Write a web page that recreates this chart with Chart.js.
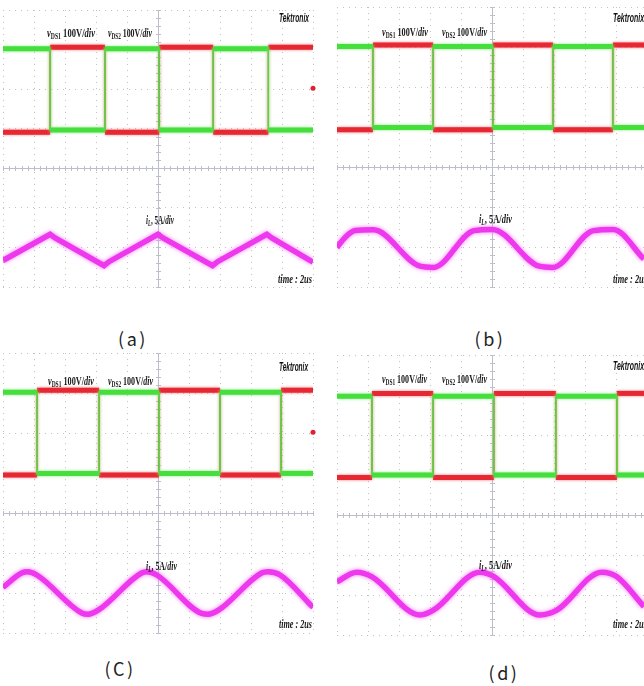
<!DOCTYPE html>
<html><head><meta charset="utf-8">
<script src="https://cdn.jsdelivr.net/npm/chart.js@4.4.0/dist/chart.umd.min.js"></script>
<style>
html,body{margin:0;padding:0;background:#fff;width:644px;height:686px;overflow:hidden;position:relative;}
canvas{position:absolute;}
.lbl{position:absolute;white-space:nowrap;color:#1a1a1a;font-family:"Liberation Serif","DejaVu Serif",serif;font-weight:bold;font-size:12px;line-height:12px;transform-origin:0 0;}
.lbl sub{font-size:8px;vertical-align:-2px;line-height:0;}
.lbl.tek{font-family:"Liberation Sans Narrow","Liberation Sans",sans-serif;font-style:italic;font-size:13px;line-height:13px;color:#111;}
.cap{position:absolute;font-family:"Noto Sans CJK KR","Noto Sans",sans-serif;font-size:18px;line-height:20px;color:#222;letter-spacing:2.5px;transform:translateX(-50%);}
</style></head><body>
<script>
// ---- values (units: oscilloscope divisions; 10 across, 7 tall, bottom = 0) ----
// switching instants of the two drain-source voltages
const edgesA = [1.52, 3.29, 5.04, 6.78, 8.56];
const edgesB = [1.16, 3.10, 5.03, 6.97, 8.90];
const edgesC = [1.10, 3.10, 5.03, 7.00, 8.97];
const edgesD = [1.13, 3.10, 5.06, 7.06, 9.03];
// [high, low] levels
const greenA = [6.02, 3.97], redA = [6.06, 3.91];
const greenB = [6.01, 3.99], redB = [6.05, 3.93];
const greenC = [6.02, 3.99], redC = [6.07, 3.95];
const greenD = [5.97, 4.00], redD = [6.04, 3.94];
// inductor current i_L
const iLtA = [0, 1.52, 1.68, 3.26, 3.42, 5.00, 5.16, 6.76, 6.92, 8.51, 8.67, 10];
const iLvA = [0.67, 1.33, 1.24, 0.54, 0.64, 1.33, 1.24, 0.54, 0.64, 1.33, 1.24, 0.63];
const iLtB = [0, 0.26, 0.58, 1.17, 2.68, 3.11, 4.42, 5.01, 6.52, 6.96, 8.27, 8.91, 9.90];
const iLvB = [0.99, 1.24, 1.41, 1.43, 0.52, 0.49, 1.41, 1.44, 0.52, 0.49, 1.41, 1.44, 0.70];
const iLtC = [0, 0.60, 0.80, 1.09, 2.54, 2.75, 3.07, 4.47, 4.65, 4.96, 6.41, 6.62, 6.95, 8.34, 8.55, 8.94, 10];
const iLvC = [1.14, 1.50, 1.53, 1.45, 0.50, 0.47, 0.57, 1.50, 1.53, 1.45, 0.49, 0.47, 0.57, 1.50, 1.53, 1.45, 0.64];
const iLtD = [0, 0.63, 1.12, 2.68, 3.11, 4.61, 5.04, 6.55, 7.09, 8.54, 9.02, 9.90];
const iLvD = [1.33, 1.57, 1.46, 0.50, 0.62, 1.57, 1.47, 0.50, 0.62, 1.57, 1.46, 0.71];
// channel reference marker at right edge
const markerA = [5.02], markerB = [], markerC = [5.02], markerD = [];
// captions and texts
const captions = ['(a)', '(b)', '(C)', '(d)'];
const TXT_V1 = '<i>v</i><sub>DS1</sub> 100V/<i>div</i>';
const TXT_V2 = '<i>v</i><sub>DS2</sub> 100V/<i>div</i>';
const TXT_IL = '<i>i</i><sub><i>L</i></sub>, 5A/<i>div</i>';
const TXT_TIME = '<i>time : 2us</i>';
const TXT_TEK = 'Tektronix';

// ---- layout ----
const M = 6;
const panels = [
  {left:3,   top:10,  w:310, h:277, edges:edgesA, g:greenA, r:redA, t:iLtA, v:iLvA, mk:markerA, smooth:false},
  {left:337, top:7,   w:310, h:280, edges:edgesB, g:greenB, r:redB, t:iLtB, v:iLvB, mk:markerB, smooth:true},
  {left:3,   top:353, w:310, h:280, edges:edgesC, g:greenC, r:redC, t:iLtC, v:iLvC, mk:markerC, smooth:true},
  {left:337, top:355, w:310, h:280, edges:edgesD, g:greenD, r:redD, t:iLtD, v:iLvD, mk:markerD, smooth:true}
];
const capPos = [[133,328],[490,328],[120,658],[504,662]];
const textPos = [
  [[TXT_V1,47,27,48,''],[TXT_V2,108,27,44,''],[TXT_TEK,279,11,30,'tek'],[TXT_IL,146,214,28,''],[TXT_TIME,278,273,34,'']],
  [[TXT_V1,382,26,46,''],[TXT_V2,442,26,45,''],[TXT_TEK,613,11,31,'tek'],[TXT_IL,479,213,33,''],[TXT_TIME,613,273,34,'']],
  [[TXT_V1,48,375,46,''],[TXT_V2,108,375,45,''],[TXT_TEK,279,360,29,'tek'],[TXT_IL,146,560,31,''],[TXT_TIME,279,618,33,'']],
  [[TXT_V1,382,373,45,''],[TXT_V2,442,373,45,''],[TXT_TEK,613,359,31,'tek'],[TXT_IL,479,559,33,''],[TXT_TIME,613,618,34,'']]
];

function steps(edges, first, second){
  const pts=[{x:0,y:first}]; let cur=first, oth=second;
  edges.forEach(e=>{pts.push({x:e,y:cur}); const tmp=cur; cur=oth; oth=tmp; pts.push({x:e,y:cur});});
  pts.push({x:10,y:cur}); return pts;
}

const glow = {
  id:'glow',
  beforeDatasetDraw(chart,args){
    const ds=chart.data.datasets[args.index]; const c=chart.ctx; c.save();
    if(ds.glow){c.shadowColor=ds.glow; c.shadowBlur=ds.glowBlur||4;}
  },
  afterDatasetDraw(chart){chart.ctx.restore();}
};
const crosshair = {
  id:'crosshair',
  beforeDatasetsDraw(chart){
    const c=chart.ctx, x=chart.scales.x, y=chart.scales.y;
    const cx=Math.round(x.getPixelForValue(5))+0.5, cy=Math.round(y.getPixelForValue(3))+0.5;
    c.save(); c.strokeStyle='#bcbfca'; c.lineWidth=1; c.beginPath();
    c.moveTo(x.left,cy); c.lineTo(x.right,cy); c.moveTo(cx,y.top); c.lineTo(cx,y.bottom);
    for(let k=0;k<=50;k++){const px=Math.round(x.getPixelForValue(k/5))+0.5; c.moveTo(px,cy-2.5); c.lineTo(px,cy+2.5);}
    for(let k=0;k<=35;k++){const py=Math.round(y.getPixelForValue(k/5))+0.5; c.moveTo(cx-2.5,py); c.lineTo(cx+2.5,py);}
    c.stroke(); c.restore();
  }
};

const thin = ctx => (ctx.p0.parsed.x === ctx.p1.parsed.x ? 1.3 : 5);

panels.forEach((p,i)=>{
  const cv=document.createElement('canvas');
  cv.width=p.w+2*M; cv.height=p.h+2*M;
  cv.style.left=(p.left-M)+'px'; cv.style.top=(p.top-M)+'px';
  document.body.appendChild(cv);
  const gridOpt={color:'#c2c2c2', lineWidth:1, drawTicks:false};
  new Chart(cv,{
    type:'line',
    data:{datasets:[
      {label:'green', data:steps(p.edges,p.g[0],p.g[1]), borderColor:'#45de3c', glow:'rgba(130,238,120,0.95)', glowBlur:3, borderWidth:5, pointRadius:0, tension:0, segment:{borderWidth:thin}},
      {label:'red', data:steps(p.edges,p.r[1],p.r[0]), borderColor:'#e52832', glow:'rgba(248,110,120,0.95)', glowBlur:3, borderWidth:5, pointRadius:0, tension:0, segment:{borderWidth:thin}},
      {label:'iL', data:p.t.map((t,k)=>({x:t,y:p.v[k]})), borderColor:'#ee38ee', glow:'rgba(255,120,255,0.95)', glowBlur:4, borderWidth:5.5, pointRadius:0, tension:0, cubicInterpolationMode:p.smooth?'monotone':'default'},
      {label:'marker', data:p.mk.map(v=>({x:10,y:v})), showLine:false, pointRadius:2.5, pointBackgroundColor:'#e02030', pointBorderWidth:0, clip:false}
    ]},
    options:{
      responsive:false, animation:false, events:[],
      layout:{padding:M, autoPadding:false},
      plugins:{legend:{display:false}, tooltip:{enabled:false}},
      scales:{
        x:{type:'linear', min:0, max:10, ticks:{display:false, stepSize:1}, grid:gridOpt, border:{display:false, dash:[1,5]}},
        y:{type:'linear', min:0, max:7, ticks:{display:false, stepSize:1}, grid:gridOpt, border:{display:false, dash:[1,5]}}
      }
    },
    plugins:[glow, crosshair]
  });
  const cap=document.createElement('div'); cap.className='cap'; cap.textContent=captions[i];
  cap.style.left=capPos[i][0]+'px'; cap.style.top=capPos[i][1]+'px'; document.body.appendChild(cap);
  textPos[i].forEach(([html,x,y,w,cls])=>{
    const d=document.createElement('div'); d.className='lbl '+cls; d.innerHTML=html;
    d.style.left=x+'px'; d.style.top=y+'px'; document.body.appendChild(d);
    const real=d.getBoundingClientRect().width; if(real>0) d.style.transform='scaleX('+(w/real).toFixed(3)+')';
  });
});
</script>
</body></html>
